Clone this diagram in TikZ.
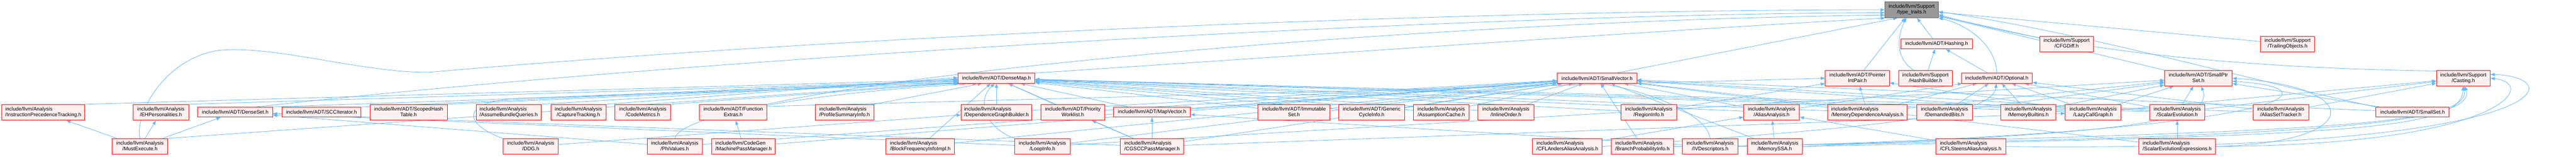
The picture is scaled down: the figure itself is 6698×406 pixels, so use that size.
\documentclass[tikz,border=0pt]{standalone}
\usepackage{fontspec}
\setmainfont{Liberation Sans}
\usetikzlibrary{arrows.meta}
\definecolor{lnkc}{HTML}{63B8FF}
\definecolor{nfill}{HTML}{FFF0F0}
\definecolor{nred}{HTML}{FF0000}
\definecolor{tfill}{HTML}{999999}
\definecolor{tdraw}{HTML}{666666}
\pgfdeclarelayer{bgl}
\pgfdeclarelayer{lnkl}
\pgfsetlayers{bgl,lnkl,main}
\newlength\twoW
\newcommand\two[2]{\settowidth\twoW{#1}\setbox0\hbox{#2}\ifdim\wd0>\twoW \twoW=\wd0 \fi\begin{tabular}{@{}l@{}}#1\\\makebox[\twoW][c]{#2}\end{tabular}}
\newcommand\bx[6]{\node[nbox,minimum width=#4pt,minimum height=#5pt] (#1) at (#2,#3) {#6};}
\newcommand\edg[2]{\draw[lnk] (#1) -- (#2);}
\tikzset{
 nbox/.style={draw=nred, fill=nfill, line width=1.3pt, inner sep=0pt, font=\fontsize{13.3}{14.6}\selectfont, text=black},
 ttbox/.style={nbox, draw=tdraw, fill=tfill},
 lnk/.style={draw=lnkc, line width=1.1pt, -{Triangle[length=11pt,width=8pt]}},
}
\begin{document}
\begin{tikzpicture}[x=1pt,y=-1pt]
\useasboundingbox (0,0) rectangle (6698,406);
\begin{pgfonlayer}{bgl}
\fill[white] (0,0) rectangle (6698,406);
\end{pgfonlayer}
% row 1
\node[ttbox,minimum width=139pt,minimum height=41pt] (tt) at (4970.5,25.5) {\two{include/llvm/Support}{/type\_traits.h}};
% row 2
\bx{hashing}{5035.5}{114}{185}{26}{include/llvm/ADT/Hashing.h}
\bx{cfgdiff}{5373.5}{114}{139}{40}{\two{include/llvm/Support}{/CFGDiff.h}}
\bx{trailing}{5948}{114}{140}{40}{\two{include/llvm/Support}{/TrailingObjects.h}}
% row 3
\bx{densemap}{2591}{203}{200}{26}{include/llvm/ADT/DenseMap.h}
\bx{smallvector}{4152.5}{203}{207}{26}{include/llvm/ADT/SmallVector.h}
\bx{pip}{4829.5}{203}{167}{40}{\two{include/llvm/ADT/Pointer}{IntPair.h}}
\bx{hashbuilder}{5006.5}{203}{139}{40}{\two{include/llvm/Support}{/HashBuilder.h}}
\bx{optional}{5192}{203}{184}{26}{include/llvm/ADT/Optional.h}
\bx{smallptrset}{5716}{203}{176}{40}{\two{include/llvm/ADT/SmallPtr}{Set.h}}
\bx{casting}{6405}{203}{140}{40}{\two{include/llvm/Support}{/Casting.h}}
% row 4
\bx{ipt}{112.5}{291.5}{217}{41}{\two{include/llvm/Analysis}{/InstructionPrecedenceTracking.h}}
\bx{ehp}{418.5}{291.5}{145}{41}{\two{include/llvm/Analysis}{/EHPersonalities.h}}
\bx{denseset}{611.5}{291}{195}{26}{include/llvm/ADT/DenseSet.h}
\bx{scc}{836}{291}{206}{26}{include/llvm/ADT/SCCIterator.h}
\bx{scoped}{1062.5}{291.5}{201}{41}{\two{include/llvm/ADT/ScopedHash}{Table.h}}
\bx{abq}{1322.5}{291.5}{169}{41}{\two{include/llvm/Analysis}{/AssumeBundleQueries.h}}
\bx{capture}{1504}{291.5}{144}{41}{\two{include/llvm/Analysis}{/CaptureTracking.h}}
\bx{codemetrics}{1671.5}{291.5}{145}{41}{\two{include/llvm/Analysis}{/CodeMetrics.h}}
\bx{funcextras}{1906.5}{291.5}{175}{41}{\two{include/llvm/ADT/Function}{Extras.h}}
\bx{psi}{2196}{291.5}{152}{41}{\two{include/llvm/Analysis}{/ProfileSummaryInfo.h}}
\bx{dgb}{2591}{291.5}{184}{41}{\two{include/llvm/Analysis}{/DependenceGraphBuilder.h}}
\bx{priority}{2789.5}{291.5}{167}{41}{\two{include/llvm/ADT/Priority}{Worklist.h}}
\bx{mapvector}{2995.5}{291}{199}{26}{include/llvm/ADT/MapVector.h}
\bx{immutable}{3364.5}{291.5}{187}{41}{\two{include/llvm/ADT/Immutable}{Set.h}}
\bx{gci}{3566.5}{291.5}{171}{41}{\two{include/llvm/ADT/Generic}{CycleInfo.h}}
\bx{acache}{3747.5}{291.5}{145}{41}{\two{include/llvm/Analysis}{/AssumptionCache.h}}
\bx{inlineorder}{3915.5}{291.5}{145}{41}{\two{include/llvm/Analysis}{/InlineOrder.h}}
\bx{regioninfo}{4287}{291.5}{144}{41}{\two{include/llvm/Analysis}{/RegionInfo.h}}
\bx{aa}{4606.5}{291.5}{145}{41}{\two{include/llvm/Analysis}{/AliasAnalysis.h}}
\bx{mda}{4855.5}{291.5}{207}{41}{\two{include/llvm/Analysis}{/MemoryDependenceAnalysis.h}}
\bx{demanded}{5056}{291.5}{144}{41}{\two{include/llvm/Analysis}{/DemandedBits.h}}
\bx{membuiltins}{5274}{291.5}{144}{41}{\two{include/llvm/Analysis}{/MemoryBuiltins.h}}
\bx{lcg}{5442.5}{291.5}{145}{41}{\two{include/llvm/Analysis}{/LazyCallGraph.h}}
\bx{se}{5661}{291.5}{144}{41}{\two{include/llvm/Analysis}{/ScalarEvolution.h}}
\bx{ast}{5930.5}{291.5}{145}{41}{\two{include/llvm/Analysis}{/AliasSetTracker.h}}
\bx{smallset}{6273}{291}{190}{26}{include/llvm/ADT/SmallSet.h}
% row 5
\bx{mustexec}{364}{380}{144}{41}{\two{include/llvm/Analysis}{/MustExecute.h}}
\bx{ddg}{1380}{380}{144}{41}{\two{include/llvm/Analysis}{/DDG.h}}
\bx{phivalues}{1754.5}{380}{143}{41}{\two{include/llvm/Analysis}{/PhiValues.h}}
\bx{mpm}{1933.5}{380}{165}{41}{\two{include/llvm/CodeGen}{/MachinePassManager.h}}
\bx{bfii}{2393}{380}{178}{41}{\two{include/llvm/Analysis}{/BlockFrequencyInfoImpl.h}}
\bx{loopinfo}{2710.5}{380}{145}{41}{\two{include/llvm/Analysis}{/LoopInfo.h}}
\bx{cgscc}{2995.5}{380}{165}{41}{\two{include/llvm/Analysis}{/CGSCCPassManager.h}}
\bx{cflanders}{4075.5}{380}{181}{41}{\two{include/llvm/Analysis}{/CFLAndersAliasAnalysis.h}}
\bx{bpi}{4270.5}{380}{161}{41}{\two{include/llvm/Analysis}{/BranchProbabilityInfo.h}}
\bx{ivd}{4446.5}{380}{145}{41}{\two{include/llvm/Analysis}{/IVDescriptors.h}}
\bx{memssa}{4614.5}{380}{143}{41}{\two{include/llvm/Analysis}{/MemorySSA.h}}
\bx{cflsteens}{5124}{380}{182}{41}{\two{include/llvm/Analysis}{/CFLSteensAliasAnalysis.h}}
\bx{see}{5661}{380}{200}{41}{\two{include/llvm/Analysis}{/ScalarEvolutionExpressions.h}}
\begin{pgfonlayer}{lnkl}
% to type_traits
\draw[lnk] (mustexec.north) .. controls (350,300) and (420,160) .. (560,132) .. controls (700,112) and (950,192) .. (1120,187) .. controls (2300,85) and (3900,25) .. (tt.west);
\draw[lnk] ([xshift=55pt]denseset.north) .. controls (1800,150) and (3800,36) .. (tt.-174);
\draw[lnk] (funcextras.north east) .. controls (2500,160) and (3900,50) .. (tt.-169);
\draw[lnk] (densemap.north east) .. controls (3300,150) and (4300,80) .. (tt.-163);
\draw[lnk] (smallvector.15) -- (tt.-150);
\edg{pip}{tt}
\draw[lnk] ([xshift=-30pt]hashbuilder.north) .. controls (4925,150) and (4935,90) .. ([xshift=-14pt]tt.south);
\draw[lnk] ([xshift=-10pt]hashing.north) -- ([xshift=14pt]tt.south);
\draw[lnk] (optional.north) .. controls (5190,120) and (5120,65) .. (tt.south east);
\edg{cfgdiff}{tt}
\edg{trailing}{tt}
\draw[lnk] (casting.165) .. controls (5700,175) and (5300,110) .. (tt.-10);
\draw[lnk] (smallset.north west) .. controls (5900,220) and (5400,80) .. (tt.-4);
\edg{smallptrset}{tt}
% Hashing
\edg{hashbuilder}{hashing}
\edg{optional}{hashing}
% PointerIntPair
\edg{mda}{pip}
\edg{regioninfo}{pip}
\edg{lcg}{pip}
\draw[lnk] (funcextras.10) -- (pip.west);
% Optional
\edg{mda}{optional}
\edg{aa}{optional}
\edg{demanded}{optional}
\edg{lcg}{optional}
\edg{membuiltins}{optional}
\edg{se}{optional}
\edg{ast}{optional}
\draw[lnk] (cflanders.east) .. controls (4900,330) and (5180,300) .. (optional.-95);
% SmallPtrSet
\edg{lcg}{smallptrset}
\edg{membuiltins}{smallptrset}
\edg{demanded}{smallptrset}
\edg{mda}{smallptrset}
\edg{se}{smallptrset}
\edg{smallset}{smallptrset}
\edg{loopinfo}{smallptrset}
\draw[lnk] (memssa.east) .. controls (5500,345) and (5760,320) .. (smallptrset.-70);
\draw[lnk] (see.east) .. controls (6150,370) and (6150,225) .. (smallptrset.east);
\draw[lnk] (ivd.east) .. controls (5950,345) and (6100,230) .. (smallptrset.-5);
% Casting
\edg{se}{casting}
\edg{ast}{casting}
\edg{lcg}{casting}
\draw[lnk] (memssa.east) .. controls (6100,350) and (6400,340) .. (casting.-92);
\draw[lnk] (ivd.east) .. controls (6000,340) and (6420,330) .. (casting.-85);
\draw[lnk] (bpi.east) .. controls (6050,360) and (6440,320) .. (casting.-78);
\draw[lnk] (see.east) .. controls (6520,375) and (6600,215) .. (casting.east);
\draw[lnk] (cflsteens.east) .. controls (6650,395) and (6690,200) .. (casting.8);
% SmallVector
\edg{priority}{smallvector}
\edg{mapvector}{smallvector}
\edg{dgb}{smallvector}
\edg{immutable}{smallvector}
\edg{gci}{smallvector}
\edg{acache}{smallvector}
\edg{inlineorder}{smallvector}
\edg{bfii}{smallvector}
\edg{loopinfo}{smallvector}
\edg{cgscc}{smallvector}
\edg{mpm}{smallvector}
\edg{phivalues}{smallvector}
\edg{aa}{smallvector}
\edg{mda}{smallvector}
\edg{bpi}{smallvector}
\edg{memssa}{smallvector}
\edg{lcg}{smallvector}
\edg{se}{smallvector}
\edg{smallset}{smallvector}
\edg{see}{smallvector}
\draw[lnk] (ivd.north) .. controls (4440,300) and (4300,240) .. (smallvector.-60);
% DenseMap
\draw[lnk] (ipt.north east) -- (densemap.182);
\draw[lnk] (ehp.north east) -- (densemap.184);
\draw[lnk] (mustexec.north east) -- (densemap.186);
\draw[lnk] (denseset.north east) -- (densemap.188);
\draw[lnk] (scc.north east) -- (densemap.183);
\draw[lnk] (scoped.north east) -- (densemap.185);
\draw[lnk] (abq.north east) -- (densemap.181);
\draw[lnk] (capture.north east) -- (densemap.179);
\draw[lnk] (codemetrics.north east) -- (densemap.187);
\draw[lnk] (psi.north east) -- (densemap.-160);
\draw[lnk] (ddg.north west) .. controls (1200,320) and (1200,262) .. (1350,255) .. controls (1800,240) and (2200,215) .. (densemap.190);
\draw[lnk] (phivalues.north) .. controls (1770,300) and (2100,240) .. (densemap.-165);
\edg{bfii}{densemap}
\draw[lnk] (loopinfo.north west) .. controls (2560,330) and (2540,260) .. (densemap.-110);
\edg{dgb}{densemap}
\edg{priority}{densemap}
\edg{mapvector}{densemap}
\edg{cgscc}{densemap}
\edg{immutable}{densemap}
\edg{gci}{densemap}
\edg{acache}{densemap}
\edg{inlineorder}{densemap}
\edg{regioninfo}{densemap}
\edg{aa}{densemap}
\edg{mda}{densemap}
\edg{lcg}{densemap}
\edg{se}{densemap}
\edg{ast}{densemap}
% DenseSet
\edg{mustexec}{denseset}
\edg{phivalues}{denseset}
\edg{loopinfo}{denseset}
\edg{cgscc}{denseset}
% others
\edg{cgscc}{mapvector}
\edg{ivd}{mapvector}
\edg{cgscc}{priority}
\edg{cgscc}{lcg}
\edg{mpm}{funcextras}
\edg{ddg}{dgb}
\edg{mustexec}{ipt}
\edg{mustexec}{ehp}
\edg{see}{se}
\edg{memssa}{aa}
\edg{cflanders}{aa}
\edg{cflsteens}{aa}
\end{pgfonlayer}
\end{tikzpicture}
\end{document}
